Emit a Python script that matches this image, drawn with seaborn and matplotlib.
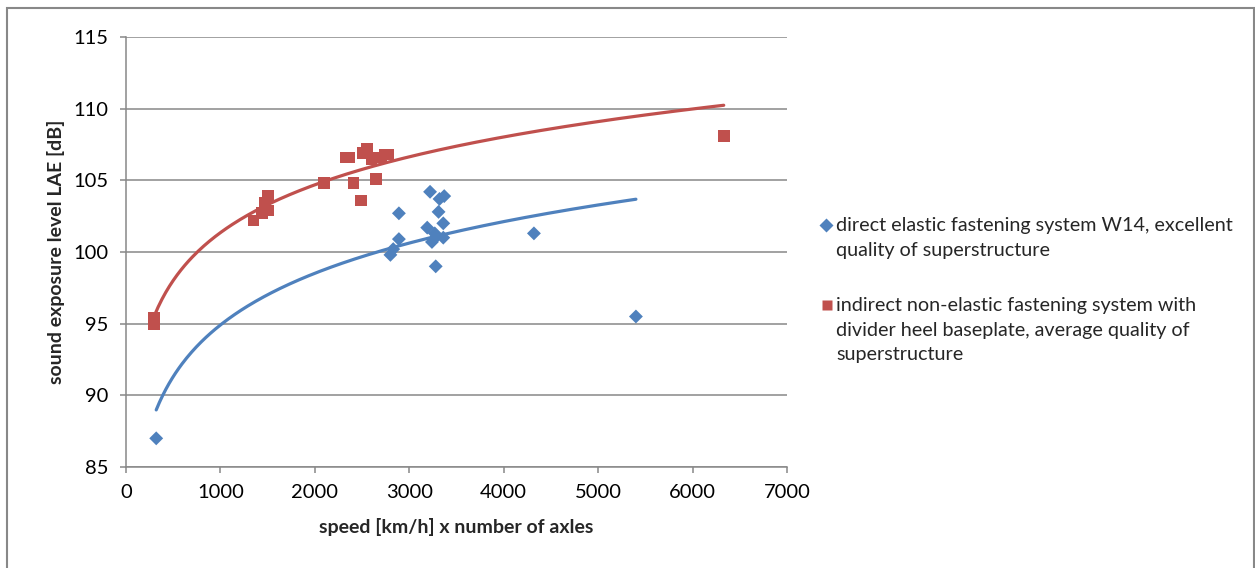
import numpy as np
import pandas as pd
import matplotlib
matplotlib.use("Agg")
import matplotlib.pyplot as plt
import seaborn as sns
from matplotlib.lines import Line2D
from matplotlib.patches import Rectangle

# ---- data ----
blue_x = [320, 2800, 2830, 2890, 2890, 3190, 3220, 3240, 3270, 3280, 3290,
          3310, 3320, 3360, 3360, 3370, 4320, 5400]
blue_y = [87.0, 99.8, 100.2, 100.9, 102.7, 101.7, 104.2, 100.7, 101.3, 99.0,
          101.1, 102.8, 103.7, 102.0, 101.0, 103.9, 101.3, 95.5]
red_x = [300, 300, 1350, 1440, 1470, 1500, 1505, 2100, 2330, 2360, 2410,
         2490, 2510, 2550, 2600, 2630, 2650, 2700, 2740, 2780, 6330]
red_y = [95.0, 95.4, 102.2, 102.7, 103.4, 102.9, 103.9, 104.8, 106.6, 106.6,
         104.8, 103.6, 106.9, 107.2, 106.5, 106.6, 105.1, 106.6, 106.8, 106.8,
         108.1]
series_names = ["direct elastic fastening system W14, excellent\nquality of superstructure",
                "indirect non-elastic fastening system with\ndivider heel baseplate, average quality of\nsuperstructure"]
x_ticks = [0, 1000, 2000, 3000, 4000, 5000, 6000, 7000]
y_ticks = [85, 90, 95, 100, 105, 110, 115]
x_label = "speed [km/h] x number of axles"
y_label = "sound exposure level LAE [dB]"

BLUE = "#4F81BD"
RED = "#C0504D"
GRID = "#888888"

sns.set_theme(style="white")
plt.rcParams["font.family"] = ["Lato", "DejaVu Sans"]

W, H = 1255, 568
fig = plt.figure(figsize=(W / 100, H / 100), dpi=100)
ax = fig.add_axes([126 / W, 1 - 467 / H, (787 - 126) / W, (467 - 37) / H])

df = pd.DataFrame({
    "x": blue_x + red_x,
    "y": blue_y + red_y,
    "series": [series_names[0]] * len(blue_x) + [series_names[1]] * len(red_x),
})

sns.scatterplot(data=df[df.series == series_names[0]], x="x", y="y", marker="D",
                color=BLUE, s=50, edgecolor="none", ax=ax, legend=False, zorder=3)
sns.scatterplot(data=df[df.series == series_names[1]], x="x", y="y", marker="s",
                color=RED, s=72, edgecolor="none", ax=ax, legend=False, zorder=3)

# logarithmic trend lines (least squares on ln x)
for xs, ys, col in [(blue_x, blue_y, BLUE), (red_x, red_y, RED)]:
    xs = np.asarray(xs, float)
    b, a = np.polyfit(np.log(xs), np.asarray(ys, float), 1)
    xx = np.linspace(xs.min(), xs.max(), 300)
    sns.lineplot(x=xx, y=a + b * np.log(xx), color=col, lw=2.3, ax=ax,
                 zorder=4, solid_capstyle="round")

ax.set_xlim(0, 7000)
ax.set_ylim(85, 115)
ax.set_xticks(x_ticks)
ax.set_yticks(y_ticks)
ax.set_xticklabels([str(t) for t in x_ticks])
ax.set_yticklabels([str(t) for t in y_ticks])
ax.yaxis.grid(True, color=GRID, lw=1.1)
ax.xaxis.grid(False)
for s in ["top", "right"]:
    ax.spines[s].set_visible(False)
for s in ["left", "bottom"]:
    ax.spines[s].set_color(GRID)
    ax.spines[s].set_linewidth(1.1)
ax.tick_params(axis="both", which="major", direction="out", length=4.5, width=1.1,
               color=GRID, labelsize=14.5, labelcolor="black", bottom=True, left=True)
ax.tick_params(axis="x", pad=8)
ax.tick_params(axis="y", pad=8)
ax.set_xlabel(x_label, fontsize=14, fontweight="bold", labelpad=12)
ax.set_ylabel(y_label, fontsize=14, fontweight="bold", labelpad=6)

# legend (drawn manually to keep the marker on the first text line)
fig.add_artist(Line2D([826 / W], [1 - 225 / H], marker="D", color=BLUE, ms=7,
                      mec="none", transform=fig.transFigure))
fig.add_artist(Line2D([827 / W], [1 - 305 / H], marker="s", color=RED, ms=7.5,
                      mec="none", transform=fig.transFigure))
fig.text(836 / W, 1 - 217 / H, series_names[0], fontsize=14.2, va="top", ha="left",
         linespacing=1.55)
fig.text(836 / W, 1 - 297 / H, series_names[1], fontsize=14.2, va="top", ha="left",
         linespacing=1.55)

# outer chart frame
fig.add_artist(Rectangle((7 / W, -0.05), (1254 - 7) / W, 1 - 8 / H + 0.05,
                         transform=fig.transFigure, fill=False, edgecolor=GRID, lw=1.5))

fig.savefig("out.png", dpi=100)
